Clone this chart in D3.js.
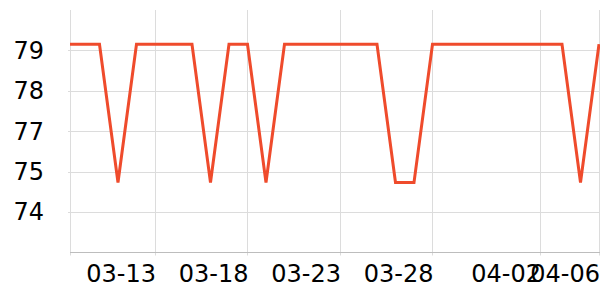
<!DOCTYPE html>
<html>
<head>
<meta charset="utf-8">
<script src="https://cdn.jsdelivr.net/npm/d3@7"></script>
<style>
  body { margin: 0; background: #fff; }
  svg { display: block; font-family: "DejaVu Sans", sans-serif; }
</style>
</head>
<body>
<svg width="600" height="300"></svg>
<script>
// data (one point per day)
var dates = ["2024-03-08", "2024-03-09", "2024-03-10", "2024-03-11", "2024-03-12",
	"2024-03-13", "2024-03-14", "2024-03-15", "2024-03-16", "2024-03-17",
	"2024-03-18", "2024-03-19", "2024-03-20", "2024-03-21", "2024-03-22",
	"2024-03-23", "2024-03-24", "2024-03-25", "2024-03-26", "2024-03-27",
	"2024-03-28", "2024-03-29", "2024-03-30", "2024-03-31", "2024-04-01",
	"2024-04-02", "2024-04-03", "2024-04-04", "2024-04-05", "2024-04-06"];
var values = [79.5, 79.5, 79.5, 75.05, 79.5,
	79.5, 79.5, 79.5, 75.05, 79.5,
	79.5, 75.05, 79.5, 79.5, 79.5,
	79.5, 79.5, 79.5, 75.05, 75.05,
	79.5, 79.5, 79.5, 79.5, 79.5,
	79.5, 79.5, 79.5, 75.05, 79.5];

// axis ticks
var xTicks = ["2024-03-13T00:00", "2024-03-18T00:00", "2024-03-23T00:00",
	"2024-03-28T00:00", "2024-04-02T19:30", "2024-04-06T00:00"];
var xTickLabels = ["03-13", "03-18", "03-23", "03-28", "04-02", "04-06"];
var yTicks = [79.3, 78.0, 76.7, 75.4, 74.1];
var xStart = "2024-03-08T09:45";
var yDomain = [72.8, 80.6];

var parse = d3.utcParse("%Y-%m-%d");
var parseT = d3.utcParse("%Y-%m-%dT%H:%M");

var data = dates.map(function (d, i) {
	return { date: parse(d), value: values[i] };
});

var plotLeft = 70,
	plotRight = 599,
	plotTop = 10,
	plotBottom = 252.5;

var svg = d3.select("svg");

var x = d3
	.scaleUtc()
	.domain([parseT(xStart), data[data.length - 1].date])
	.range([plotLeft, plotRight]);

var y = d3.scaleLinear().domain(yDomain).range([plotBottom, plotTop]);

// horizontal grid
svg
	.append("g")
	.selectAll("line")
	.data(yTicks)
	.enter()
	.append("line")
	.attr("x1", plotLeft - 2)
	.attr("x2", 600)
	.attr("y1", function (d) { return Math.round(y(d)) + 0.5; })
	.attr("y2", function (d) { return Math.round(y(d)) + 0.5; })
	.style("stroke", "#dcdcdc")
	.style("stroke-width", 1);

// vertical grid (left edge + ticks)
var vLines = [x.domain()[0]].concat(xTicks.map(parseT));
svg
	.append("g")
	.selectAll("line")
	.data(vLines)
	.enter()
	.append("line")
	.attr("x1", function (d) { return Math.round(x(d)) + 0.5; })
	.attr("x2", function (d) { return Math.round(x(d)) + 0.5; })
	.attr("y1", plotTop)
	.attr("y2", plotBottom + 3)
	.style("stroke", "#dcdcdc")
	.style("stroke-width", 1);

// bottom axis line
svg
	.append("line")
	.attr("x1", plotLeft)
	.attr("x2", 600)
	.attr("y1", plotBottom)
	.attr("y2", plotBottom)
	.style("stroke", "#bdbdbd")
	.style("stroke-width", 1);

// y labels
svg
	.append("g")
	.selectAll("text")
	.data(yTicks)
	.enter()
	.append("text")
	.attr("x", 44)
	.attr("y", function (d) { return y(d); })
	.attr("dy", "0.35em")
	.attr("text-anchor", "end")
	.style("font-size", "24px")
	.style("fill", "#000")
	.text(function (d) { return d3.format(".0f")(d); });

// x labels
svg
	.append("g")
	.selectAll("text")
	.data(xTicks)
	.enter()
	.append("text")
	.attr("x", function (d) { return x(parseT(d)) + 1; })
	.attr("y", 282)
	.attr("text-anchor", "end")
	.style("font-size", "24px")
	.style("fill", "#000")
	.text(function (d, i) { return xTickLabels[i]; });

// line
svg
	.append("clipPath")
	.attr("id", "plotclip")
	.append("rect")
	.attr("x", plotLeft)
	.attr("y", 0)
	.attr("width", 600 - plotLeft)
	.attr("height", 300);

var line = d3
	.line()
	.x(function (d) { return x(d.date); })
	.y(function (d) { return y(d.value); });

svg
	.append("path")
	.datum(data)
	.attr("clip-path", "url(#plotclip)")
	.attr("d", line)
	.style("fill", "none")
	.style("stroke", "#ef4b2c")
	.style("stroke-width", 3)
	.style("stroke-linejoin", "miter");
</script>
</body>
</html>
